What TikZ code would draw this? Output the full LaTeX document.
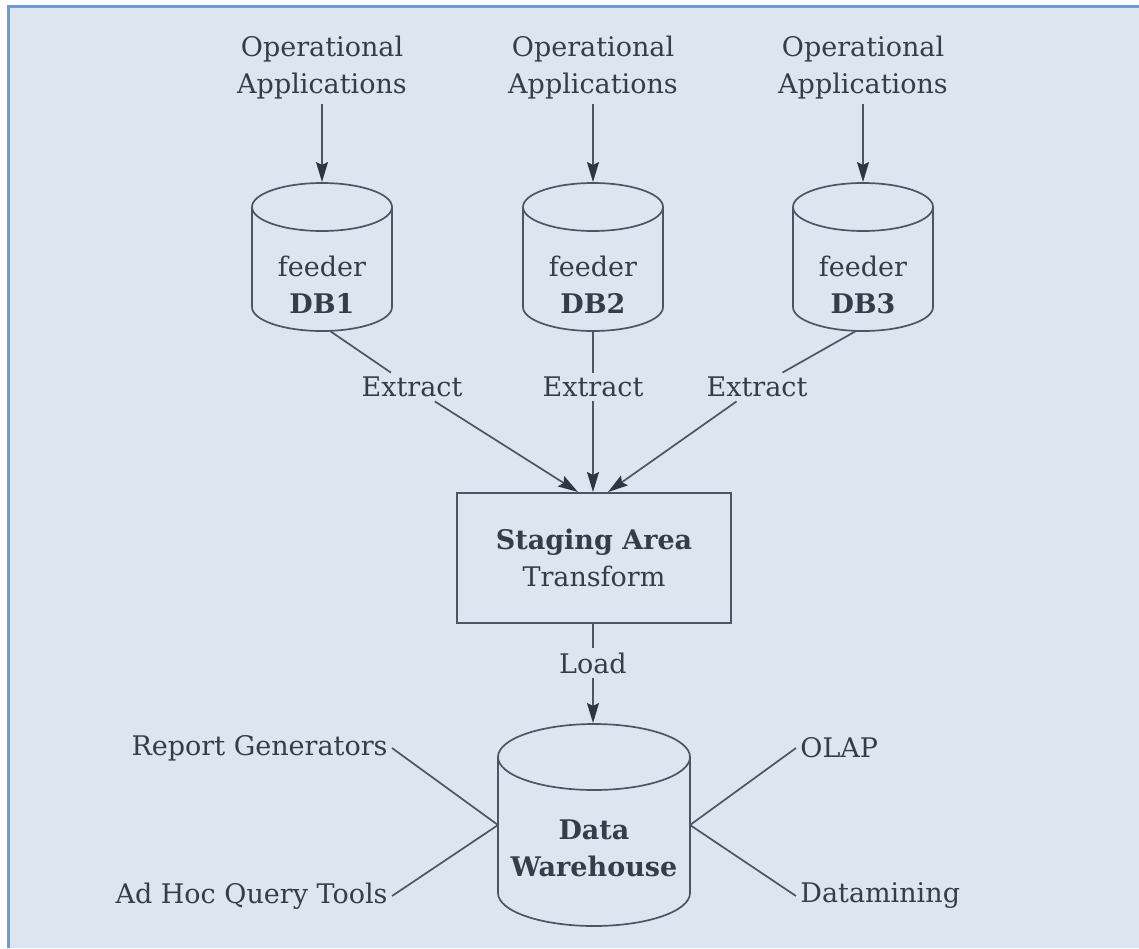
\documentclass[tikz,border=0pt]{standalone}
\usepackage{fontspec}
\setmainfont{DejaVu Serif}
\usetikzlibrary{arrows.meta}
\definecolor{bgfill}{HTML}{DCE5F0}
\definecolor{frameblue}{HTML}{6B9BD2}
\definecolor{ink}{HTML}{363D4A}
\definecolor{wirec}{HTML}{4C5563}
\definecolor{tipc}{HTML}{2F3642}
% cylinder outline: centre x, top y, bottom y, x radius, y radius
\newcommand\dbcylinder[5]{%
  \draw[wire] (#1-#4,#2) -- (#1-#4,#3)
    arc[start angle=180,end angle=0,x radius=#4,y radius=#5] -- (#1+#4,#2);
  \draw[wire] (#1,#2) ellipse[x radius=#4,y radius=#5];
}
\begin{document}
\begin{tikzpicture}[x=0.5pt,y=-0.5pt,
  lbl/.style={text=ink, font=\fontsize{13.5}{18.5}\selectfont, align=center, inner sep=2pt},
  wire/.style={draw=wirec, line width=0.85pt},
  arr/.style={wire, -{Stealth[length=10pt,width=6pt,inset=1.5pt,color=tipc]}},
  stagebox/.style={lbl, draw=wirec, line width=0.85pt, minimum width=137pt, minimum height=65pt}]
\useasboundingbox (0,0) rectangle (1139,948);
\fill[bgfill] (8,6) rectangle (1139,948);
\draw[frameblue, line width=1.5pt] (8,948) -- (8,6) -- (1139,6);

% sources
\node[lbl] (op1) at (322,68) {Operational\\Applications};
\node[lbl] (op2) at (593,68) {Operational\\Applications};
\node[lbl] (op3) at (863,68) {Operational\\Applications};

% feeder databases
\dbcylinder{322}{207}{307}{70}{24}
\dbcylinder{593}{207}{307}{70}{24}
\dbcylinder{863}{207}{307}{70}{24}
\node[lbl] (db1) at (322,285) {feeder\\\textbf{DB1}};
\node[lbl] (db2) at (593,285) {feeder\\\textbf{DB2}};
\node[lbl] (db3) at (863,285) {feeder\\\textbf{DB3}};
\coordinate (db1t) at (322,182);
\coordinate (db2t) at (593,182);
\coordinate (db3t) at (863,182);
\coordinate (db1b) at (330,331);
\coordinate (db2b) at (593,331);
\coordinate (db3b) at (856,331);

\draw[arr] (op1) -- (db1t);
\draw[arr] (op2) -- (db2t);
\draw[arr] (op3) -- (db3t);

% extract step
\node[lbl] (ex1) at (412,387) {Extract};
\node[lbl] (ex2) at (593,387) {Extract};
\node[lbl] (ex3) at (757,387) {Extract};

\node[stagebox] (stage) at (594,558) {\textbf{Staging Area}\\Transform};
\coordinate (s1) at (578,492);
\coordinate (s2) at (593,492);
\coordinate (s3) at (608,492);

\draw[wire] (db1b) -- (ex1);
\draw[wire] (db2b) -- (ex2);
\draw[wire] (db3b) -- (ex3);
\draw[arr] (ex1) -- (s1);
\draw[arr] (ex2) -- (s2);
\draw[arr] (ex3) -- (s3);

% load into the warehouse
\node[lbl] (load) at (593,663) {Load};
\coordinate (dwt) at (593,723);
\draw[wire] (stage.south -| load) -- (load);
\draw[arr] (load) -- (dwt);

\dbcylinder{594}{757}{893}{96}{33}
\node[lbl] (dw) at (594,848) {\textbf{Data}\\\textbf{Warehouse}};
\coordinate (dwl) at (498,825);
\coordinate (dwr) at (690,825);

% front-end tools
\node[lbl, anchor=east] (rg) at (392,748) {Report Generators};
\node[lbl, anchor=east] (ah) at (392,896) {Ad Hoc Query Tools};
\node[lbl, anchor=west] (olap) at (796,748) {OLAP};
\node[lbl, anchor=west] (dm) at (796,896) {Datamining};
\draw[wire] (rg.east) -- (dwl);
\draw[wire] (ah.east) -- (dwl);
\draw[wire] (olap.west) -- (dwr);
\draw[wire] (dm.west) -- (dwr);
\end{tikzpicture}
\end{document}
